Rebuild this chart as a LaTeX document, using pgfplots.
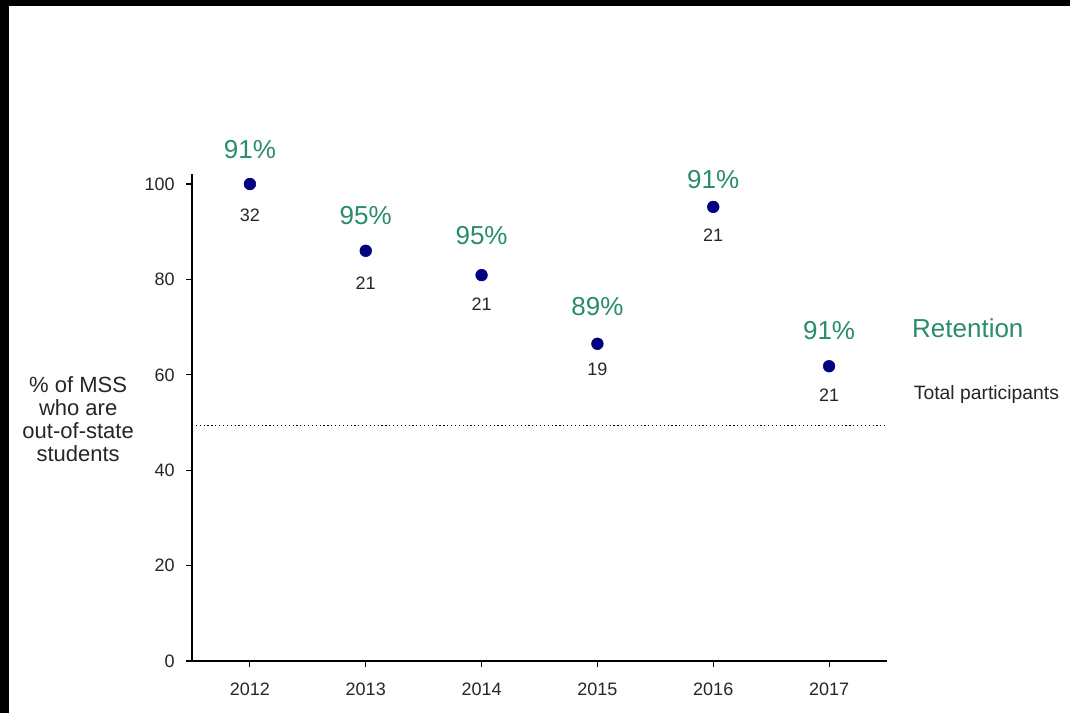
\documentclass[border=0pt]{standalone}
\usepackage{pgfplots}
\pgfplotsset{compat=1.18}
\usepackage{fontspec}
\setmainfont{Liberation Sans}
\definecolor{ret}{HTML}{2A8C6E}
\definecolor{dot}{HTML}{000080}
\begin{document}
\begin{tikzpicture}
\useasboundingbox (0,0) rectangle (802.5pt,-534.75pt);
\fill[white] (0,0) rectangle (802.5pt,-534.75pt);
\begin{axis}[
  at={(144pt,-495.75pt)}, anchor=south west,
  scale only axis, width=521.25pt, height=364.9pt,
  xmin=2011.5, xmax=2017.5, ymin=0, ymax=102,
  axis lines*=left, axis line style={black, line width=0.8pt},
  tick align=outside, major tick length=4.5pt,
  tick style={black, line width=0.8pt},
  xtick={2012,2013,2014,2015,2016,2017},
  ytick={0,20,40,60,80,100},
  /pgf/number format/1000 sep={},
  /pgf/number format/assume math mode=true,
  tick label style={font=\fontsize{13.5}{15}\selectfont, text=black!85},
  xticklabel style={yshift=-8.5pt},
  yticklabel style={xshift=-5pt},
  clip=false,
]
\addplot[draw=black, dotted, line width=0.9pt] coordinates {(2011.5,49.3) (2017.5,49.3)};
\addplot[only marks, mark=*, mark size=4.4pt, color=dot] coordinates {
 (2012,100) (2013,86.0) (2014,80.9) (2015,66.5) (2016,95.2) (2017,61.8)};
\addplot[only marks, mark=none, point meta=explicit symbolic,
  nodes near coords={\pgfplotspointmeta\%},
  nodes near coords style={anchor=center, text=ret, font=\fontsize{19.5}{22}\selectfont}]
  table[meta=r] {
x y r
2012 107.3 91
2013 93.3 95
2014 89.1 95
2015 74.4 89
2016 101.0 91
2017 69.2 91
};
\addplot[only marks, mark=none, point meta=explicit symbolic,
  nodes near coords={\pgfplotspointmeta},
  nodes near coords style={anchor=center, text=black!85, font=\fontsize{13.5}{15}\selectfont}]
  table[meta=n] {
x y n
2012 93.5 32
2013 79.2 21
2014 74.8 21
2015 61.2 19
2016 89.3 21
2017 55.8 21
};
\node[anchor=west, text=ret, font=\fontsize{19.5}{22}\selectfont, inner sep=0pt] at (axis cs:2017.715,69.8) {Retention};
\node[anchor=west, text=black!85, font=\fontsize{14.5}{16}\selectfont, inner sep=0pt] at (axis cs:2017.73,55.8) {Total participants};
\node[align=center, text=black!85, font=\fontsize{16.5}{17.3}\selectfont] at (axis cs:2010.517,50.7) {\% of MSS\\who are\\out-of-state\\students};
\end{axis}
\fill[black] (0,0) rectangle (802.5pt,-4.5pt);
\fill[black] (0,0) rectangle (6.5pt,-534.75pt);
\end{tikzpicture}
\end{document}
